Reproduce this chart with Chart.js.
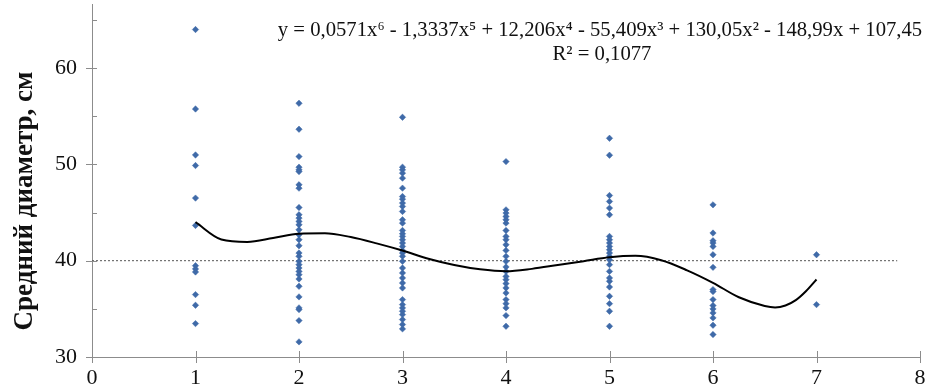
<!DOCTYPE html>
<html>
<head>
<meta charset="utf-8">
<script src="https://cdn.jsdelivr.net/npm/chart.js@4/dist/chart.umd.min.js"></script>
<style>
html,body{margin:0;padding:0;background:#fff;}
#wrap{width:929px;height:391px;position:relative;}
</style>
</head>
<body>
<div id="wrap"><canvas id="c" width="929" height="391"></canvas></div>
<script>
// ---- data ----
const col1 = [64.0, 55.75, 50.98, 49.88, 46.5, 43.66, 39.48, 39.14, 38.83, 36.48, 35.37, 33.47];
const col2 = [56.34, 53.65, 50.81, 49.71, 49.43, 49.25, 47.88, 47.53, 45.52, 44.77, 44.42, 44.08, 43.73, 43.21, 42.69, 42.18, 41.55, 40.8, 40.45, 39.93, 39.59, 39.24, 38.89, 38.55, 38.1, 37.34, 36.24, 35.1, 34.92, 33.78, 31.57];
const col3 = [54.89, 49.71, 49.43, 49.09, 48.57, 47.53, 46.66, 46.39, 45.98, 45.63, 45.11, 44.25, 43.9, 43.14, 42.8, 42.52, 42.18, 41.83, 41.48, 41.07, 40.8, 40.45, 39.93, 39.24, 38.73, 38.21, 37.69, 37.17, 35.96, 35.44, 35.1, 34.75, 34.4, 33.89, 33.37, 32.92];
const col4 = [50.29, 45.28, 44.94, 44.59, 44.25, 43.9, 43.14, 42.52, 42.18, 41.66, 41.07, 40.45, 39.93, 39.35, 38.89, 38.37, 38.03, 37.62, 37.17, 36.65, 35.96, 35.54, 35.1, 34.3, 33.19];
const col5 = [52.71, 50.95, 46.77, 46.15, 45.46, 44.77, 42.52, 42.18, 41.83, 41.48, 41.14, 40.8, 40.45, 40.1, 39.59, 38.89, 38.21, 37.86, 37.27, 36.3, 35.54, 34.75, 33.19];
const col6 = [45.8, 42.87, 42.07, 41.83, 41.48, 40.62, 39.31, 37.0, 36.79, 35.96, 35.34, 34.99, 34.58, 34.06, 33.3, 32.33];
const col7 = [40.62, 35.44];
const columns = [col1, col2, col3, col4, col5, col6, col7];
const categories = [1, 2, 3, 4, 5, 6, 7];

// trend line
const trendX = [1, 1.25, 1.5, 1.75, 2, 2.25, 2.5, 2.75, 3, 3.25, 3.5, 3.75, 4, 4.25, 4.5, 4.75, 5, 5.25, 5.5, 5.75, 6, 6.25, 6.5, 6.6, 6.7, 6.8, 6.9, 7];
const trendY = [44.0, 42.2, 41.95, 42.35, 42.8, 42.85, 42.45, 41.8, 41.05, 40.2, 39.55, 39.1, 38.9, 39.15, 39.55, 39.95, 40.35, 40.5, 40.05, 39.0, 37.7, 36.2, 35.3, 35.15, 35.35, 35.9, 36.85, 38.05];

// horizontal reference line
const refX = [0, 7.78];
const refY = [40, 40];

const xTickLabels = [0, 1, 2, 3, 4, 5, 6, 7, 8];
const yTickLabels = [30, 40, 50, 60];
const yMinorTicks = [35, 45, 55, 65];
const yTitle = 'Средний диаметр, см';
const eqLines = ['y = 0,0571x⁶ - 1,3337x⁵ + 12,206x⁴ - 55,409x³ + 130,05x² - 148,99x + 107,45', 'R² = 0,1077'];

// ---- build ----
const scatterData = [];
columns.forEach((col, i) => col.forEach(v => scatterData.push({x: categories[i], y: v})));
const trendData = trendX.map((x, i) => ({x, y: trendY[i]}));
const refData = refX.map((x, i) => ({x, y: refY[i]}));

const SERIF = '"Liberation Serif", "Times New Roman", serif';
const AXIS = '#8c8c8c';

const decor = {
  id: 'decor',
  afterDraw(chart) {
    const ctx = chart.ctx;
    const xs = chart.scales.x, ys = chart.scales.y;
    const ax = xs.left, ay = ys.bottom;
    ctx.save();
    ctx.strokeStyle = AXIS;
    ctx.lineWidth = 1;
    ctx.beginPath();
    yTickLabels.forEach(v => {
      const p = Math.round(ys.getPixelForValue(v)) + 0.5;
      ctx.moveTo(ax - 6, p); ctx.lineTo(ax + 5, p);
    });
    yMinorTicks.forEach(v => {
      const p = Math.round(ys.getPixelForValue(v)) + 0.5;
      ctx.moveTo(ax, p); ctx.lineTo(ax + 5, p);
    });
    xTickLabels.forEach(v => {
      const p = Math.round(xs.getPixelForValue(v)) + 0.5;
      ctx.moveTo(p, ay - 6); ctx.lineTo(p, ay + 6);
    });
    ctx.stroke();

    ctx.fillStyle = '#111';
    ctx.font = 'bold 27px ' + SERIF;
    ctx.textAlign = 'center';
    ctx.textBaseline = 'middle';
    ctx.translate(25, 201);
    ctx.rotate(-Math.PI / 2);
    ctx.fillText(yTitle, 0, 0);
    ctx.restore();

    ctx.save();
    ctx.fillStyle = '#111';
    ctx.font = '20.7px ' + SERIF;
    ctx.textAlign = 'center';
    ctx.textBaseline = 'middle';
    ctx.fillText(eqLines[0], 600, 31);
    ctx.fillText(eqLines[1], 602, 55);
    ctx.restore();
  }
};

new Chart(document.getElementById('c'), {
  type: 'scatter',
  data: {
    datasets: [
      {
        label: 'ref', data: refData, showLine: true, pointRadius: 0,
        borderColor: '#555', borderWidth: 1, borderDash: [2, 2], order: 3
      },
      {
        label: 'points', data: scatterData, pointStyle: 'rectRot', pointRadius: 3.2,
        backgroundColor: '#3f6aa8', borderColor: '#3f6aa8', borderWidth: 0.5, order: 2
      },
      {
        label: 'trend', data: trendData, showLine: true, pointRadius: 0,
        borderColor: '#000', borderWidth: 2, cubicInterpolationMode: 'monotone', order: 1
      }
    ]
  },
  options: {
    responsive: false,
    animation: false,
    devicePixelRatio: 1,
    layout: {padding: {top: 0, right: 9, left: 0, bottom: 0}},
    plugins: {legend: {display: false}, tooltip: {enabled: false}},
    scales: {
      x: {
        type: 'linear', min: 0, max: 8,
        afterBuildTicks: s => { s.ticks = xTickLabels.map(v => ({value: v})); },
        afterFit: s => { s.height = 34; s.paddingLeft = 0; s.paddingRight = 0; },
        grid: {display: false, drawTicks: false},
        border: {display: true, color: AXIS, width: 1},
        ticks: {color: '#111', padding: 8, font: {family: SERIF, size: 22}, maxRotation: 0}
      },
      y: {
        type: 'linear', min: 30, max: 66.6,
        afterBuildTicks: s => { s.ticks = yTickLabels.map(v => ({value: v})); },
        afterFit: s => { s.width = 92; s.paddingTop = 0; s.paddingBottom = 0; },
        grid: {display: false, drawTicks: false},
        border: {display: true, color: AXIS, width: 1},
        ticks: {color: '#111', padding: 15, font: {family: SERIF, size: 22}}
      }
    }
  },
  plugins: [decor]
});
</script>
</body>
</html>
